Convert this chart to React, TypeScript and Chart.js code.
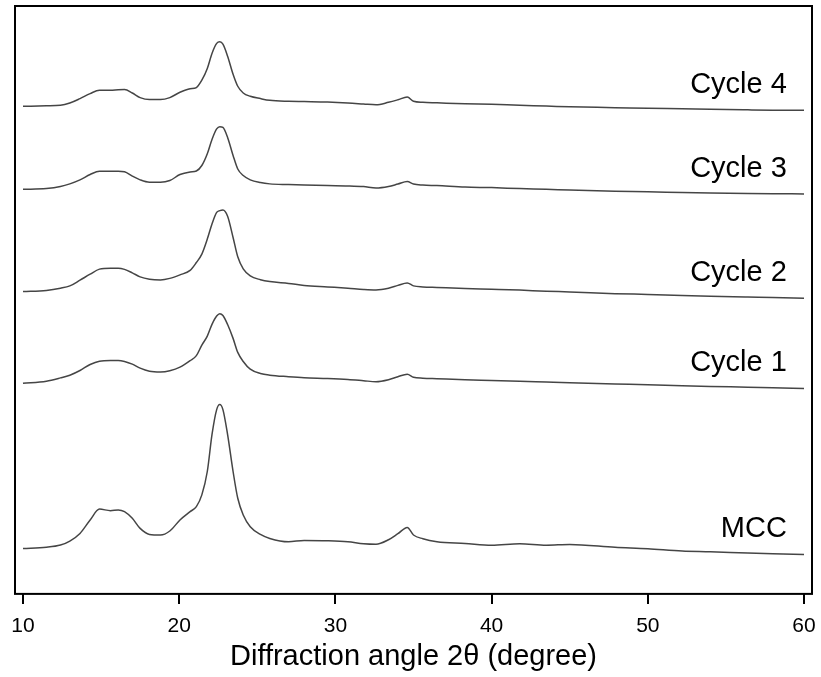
import React, { useEffect, useRef } from "react";
import { Chart, registerables } from "chart.js";

Chart.register(...registerables);

// 2θ sample positions (degrees)
const twoTheta = [10, 11.5, 12.4, 13.0, 13.65, 14.3, 14.9, 15.6, 16.1, 16.5, 17.0, 17.5, 18.1, 18.8, 19.4, 20.05, 20.7, 21.1, 21.45, 21.8, 22.1, 22.4, 22.6, 22.8, 23.1, 23.45, 23.75, 24.1, 24.55, 25.2, 25.8, 27.0, 28.0, 29.5, 30.8, 31.8, 32.6, 33.4, 34.0, 34.6, 35.0, 35.6, 36.5, 38.3, 40.0, 41.8, 43.5, 45.0, 47.9, 50.0, 52.2, 54.0, 56.4, 58.0, 60];

// Stacked intensities (arbitrary units, vertical offsets included)
const mcc = [45.3, 46.5, 48.7, 52.7, 60.3, 73.7, 84.5, 83, 83.7, 82, 75.3, 65.3, 59.3, 58.7, 62.7, 73.7, 82, 87, 98.7, 122, 158.7, 183.7, 188.7, 183.7, 158.7, 122, 95.3, 78.7, 67, 59.3, 55.3, 52, 53.3, 53, 52, 50, 49.5, 54, 60, 66.3, 58.7, 55, 52, 50.3, 48.5, 50, 48.5, 49.3, 46.5, 45, 42.7, 42, 40.7, 40, 39.3];
const cycle1 = [210, 212, 215.3, 218, 222.7, 228.7, 232, 232.7, 232.7, 231.7, 229, 225, 222, 221.3, 222.5, 226, 232.5, 237.5, 248, 257, 268.7, 277, 279.3, 277.5, 268.5, 254.7, 240.7, 231.7, 224, 219.7, 218, 216.5, 215.5, 214.7, 213.7, 212.5, 211.5, 213.5, 216.5, 219, 216, 215, 214.5, 213.5, 212.8, 212, 211.2, 210.5, 209.3, 208.5, 207.5, 206.8, 206, 205.4, 204.7];
const cycle2 = [301.3, 302.5, 304.7, 307, 312.7, 318.7, 323.7, 324.7, 324.7, 323.5, 320, 316, 313.7, 313, 314.5, 318, 322.5, 330.3, 338.7, 353.7, 368.7, 380.3, 382, 382.7, 376.5, 355.3, 336, 324, 317, 313.2, 311.3, 309.5, 307.5, 306, 304.7, 303.5, 303, 304.7, 307.5, 310, 307, 306, 305.5, 304.5, 303.7, 302.8, 301.7, 301, 299.3, 298.5, 297.5, 296.8, 296, 295.5, 294.7];
const cycle3 = [403.3, 404, 406, 408.7, 412.7, 418, 421.3, 421.3, 421.3, 420.8, 416.5, 412.7, 410.3, 410.3, 412, 418, 420.5, 421.5, 427, 438.7, 453, 463.5, 465.7, 465, 455, 437, 423.5, 417, 412.7, 410, 408.7, 408, 407.5, 407, 406.7, 406, 404.5, 406, 408.5, 411, 408.5, 407.5, 407, 405.5, 405, 404, 403.3, 402.5, 401.3, 400.8, 400, 399.5, 399, 398.8, 398.7];
const cycle4 = [486, 486.5, 487, 489.3, 493.7, 498.7, 502, 502, 502.5, 502.7, 499.3, 494.7, 492.7, 492.7, 494.7, 500, 503.5, 504.7, 512, 523.7, 538.7, 548.7, 550.3, 548, 536, 518, 506, 499.3, 496, 493.7, 492, 491, 490.7, 490.2, 489.3, 488.3, 487.5, 490, 492.5, 495.3, 491, 490, 489.5, 488.5, 488, 487, 486.3, 485.5, 484.7, 484, 483.5, 483, 482.5, 482.2, 482];

const seriesNames = ["MCC", "Cycle 1", "Cycle 2", "Cycle 3", "Cycle 4"];
const seriesValues = [mcc, cycle1, cycle2, cycle3, cycle4];
const xTicks = [10, 20, 30, 40, 50, 60];

const FONT = "'Liberation Sans', Arial, sans-serif";

export default function App() {
  const ref = useRef<HTMLCanvasElement | null>(null);

  useEffect(() => {
    if (!ref.current) return;

    const framePlugin = {
      id: "frameAndLabels",
      afterDatasetsDraw(chart: any) {
        const { ctx, chartArea } = chart;
        const xs = chart.scales.x;
        const ys = chart.scales.y;
        ctx.save();
        ctx.strokeStyle = "#000";
        ctx.lineWidth = 2;
        ctx.strokeRect(chartArea.left, chartArea.top, chartArea.right - chartArea.left, chartArea.bottom - chartArea.top);
        ctx.fillStyle = "#000";
        ctx.font = `29px ${FONT}`;
        ctx.textAlign = "right";
        ctx.textBaseline = "alphabetic";
        seriesNames.forEach((name, i) => {
          const vals = seriesValues[i];
          const last = vals[vals.length - 1];
          ctx.fillText(name, xs.getPixelForValue(58.9), ys.getPixelForValue(last + 17));
        });
        ctx.restore();
      },
    };

    const chart = new Chart(ref.current, {
      type: "line",
      data: {
        datasets: seriesNames.map((name, i) => ({
          label: name,
          data: twoTheta.map((x, j) => ({ x, y: seriesValues[i][j] })),
          borderColor: "#454545",
          borderWidth: 1.5,
          pointRadius: 0,
          cubicInterpolationMode: "monotone" as const,
          fill: false,
        })),
      },
      options: {
        responsive: false,
        animation: false,
        devicePixelRatio: 1,
        layout: { padding: { left: 15, right: 9, top: 6, bottom: 13 } },
        plugins: { legend: { display: false }, tooltip: { enabled: false } },
        scales: {
          x: {
            type: "linear",
            min: 9.49,
            max: 60.51,
            afterBuildTicks: (scale: any) => {
              scale.ticks = xTicks.map((v) => ({ value: v }));
            },
            afterFit: (scale: any) => {
              scale.paddingLeft = 0;
              scale.paddingRight = 0;
            },
            border: { display: false },
            grid: {
              drawOnChartArea: false,
              drawTicks: true,
              tickLength: 10,
              color: "#000",
              lineWidth: 2,
            },
            ticks: {
              padding: 10,
              color: "#000",
              font: { family: FONT, size: 21 },
              maxRotation: 0,
              autoSkip: false,
            },
            title: {
              display: true,
              text: "Diffraction angle 2θ (degree)",
              color: "#000",
              font: { family: FONT, size: 29, lineHeight: 0.514 },
              padding: { top: 0, bottom: 0 },
            },
          },
          y: {
            display: false,
            min: 0,
            max: 586,
          },
        },
      },
      plugins: [framePlugin],
    });

    return () => chart.destroy();
  }, []);

  return (
    <div style={{ position: "absolute", left: 0, top: 0, width: 821, height: 677, background: "#fff" }}>
      <canvas ref={ref} width={821} height={677} />
    </div>
  );
}
